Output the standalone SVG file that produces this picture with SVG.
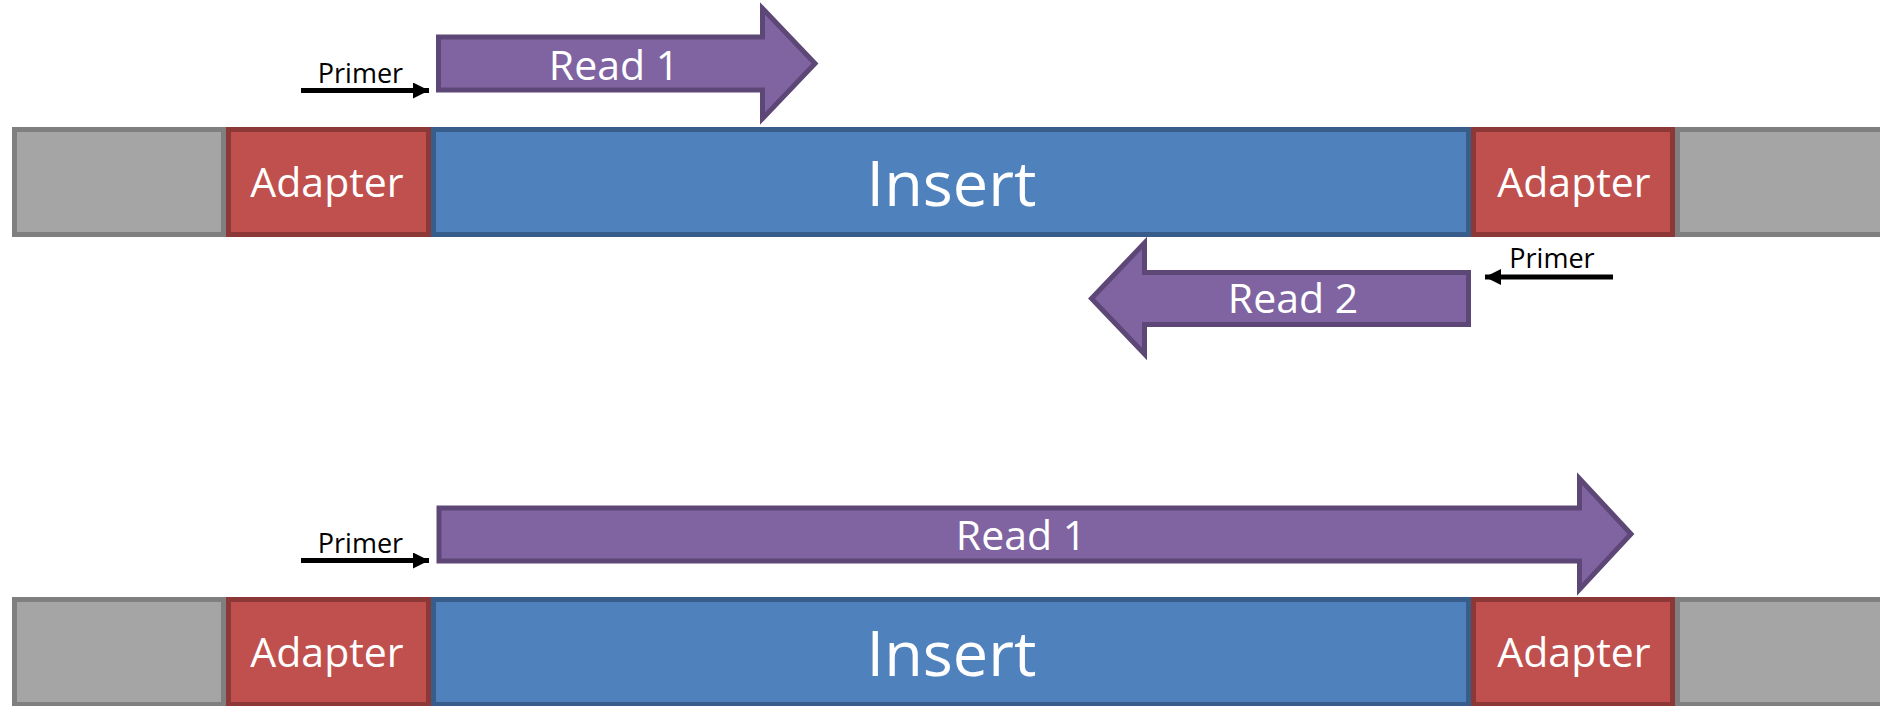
<svg xmlns="http://www.w3.org/2000/svg" width="1880" height="706" viewBox="0 0 1880 706">
  <style>
    .gray { fill: #A5A5A5; stroke: #7F7F7F; stroke-width: 5; }
    .adapter { fill: #C0504D; stroke: #8C3836; stroke-width: 5; }
    .insert { fill: #4F81BD; stroke: #385D8A; stroke-width: 5; }
    .read { fill: #8064A2; stroke: #5C4776; stroke-width: 5; stroke-linejoin: miter; }
    .primer { stroke: #000000; stroke-width: 5; fill: none; }
    text { font-family: "Open Sans", "Noto Sans", "Liberation Sans", sans-serif; text-anchor: middle; }
    .w { fill: #FFFFFF; }
    .lbl41 { font-size: 41px; }
    .lbl63 { font-size: 63px; }
    .plbl { font-size: 27px; fill: #000000; }
  </style>
  <defs>
    <marker id="ah" markerUnits="userSpaceOnUse" markerWidth="16" markerHeight="16" refX="16" refY="8" orient="auto">
      <path d="M0,0 L16,8 L0,16 Z" fill="#000000"/>
    </marker>
  </defs>
  <rect width="1880" height="706" fill="#FFFFFF"/>

  <!-- Top row -->
  <g id="top-flank-left"><rect class="gray" x="14.5" y="129.5" width="209" height="105"/></g>
  <g id="top-adapter-left"><rect class="adapter" x="228.5" y="129.5" width="200" height="105"/><text class="w lbl41" x="327" y="197">Adapter</text></g>
  <g id="top-insert"><rect class="insert" x="433.5" y="129.5" width="1035" height="105"/><text class="w lbl63" x="951.5" y="206">Insert</text></g>
  <g id="top-adapter-right"><rect class="adapter" x="1473.5" y="129.5" width="199" height="105"/><text class="w lbl41" x="1574" y="197">Adapter</text></g>
  <g id="top-flank-right"><rect class="gray" x="1677.5" y="129.5" width="250" height="105"/></g>

  <g id="top-read1"><path class="read" d="M438.5,37 H762.5 V8.5 L815,63.5 L762.5,118.5 V90 H438.5 Z"/><text class="w lbl41" x="614" y="80">Read 1</text></g>
  <g id="top-read2"><path class="read" d="M1468.5,272.5 H1144.5 V243 L1091.5,298.5 L1144.5,354 V324.5 H1468.5 Z"/><text class="w lbl41" x="1293" y="313">Read 2</text></g>

  <g id="top-primer-left"><text class="plbl" x="360.5" y="83">Primer</text></g>
  <g id="top-primer-right"><text class="plbl" x="1552" y="268">Primer</text></g>

  <!-- Bottom row -->
  <g id="bottom-flank-left"><rect class="gray" x="14.5" y="599.5" width="209" height="105"/></g>
  <g id="bottom-adapter-left"><rect class="adapter" x="228.5" y="599.5" width="200" height="105"/><text class="w lbl41" x="327" y="667">Adapter</text></g>
  <g id="bottom-insert"><rect class="insert" x="433.5" y="599.5" width="1035" height="105"/><text class="w lbl63" x="951.5" y="676">Insert</text></g>
  <g id="bottom-adapter-right"><rect class="adapter" x="1473.5" y="599.5" width="199" height="105"/><text class="w lbl41" x="1574" y="667">Adapter</text></g>
  <g id="bottom-flank-right"><rect class="gray" x="1677.5" y="599.5" width="250" height="105"/></g>

  <g id="bottom-read1"><path class="read" d="M439,508 H1579.5 V478.5 L1631,534 L1579.5,589.5 V561 H439 Z"/><text class="w lbl41" x="1021" y="550">Read 1</text></g>
  <g id="bottom-primer"><text class="plbl" x="360.5" y="553">Primer</text></g>

  <!-- Connectors (primer arrows) -->
  <g id="connectors">
    <line class="primer" x1="301" y1="90.5" x2="429" y2="90.5" marker-end="url(#ah)"/>
    <line class="primer" x1="1613" y1="277" x2="1485" y2="277" marker-end="url(#ah)"/>
    <line class="primer" x1="301" y1="560.5" x2="429" y2="560.5" marker-end="url(#ah)"/>
  </g>
</svg>
